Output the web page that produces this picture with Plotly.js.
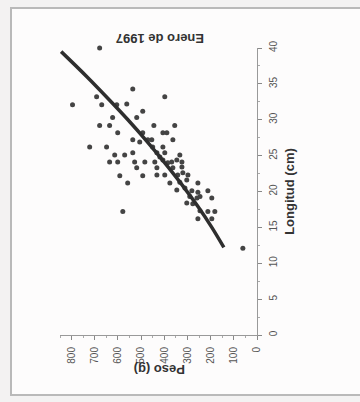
<!DOCTYPE html>
<html>
<head>
<meta charset="utf-8">
<script src="https://cdn.plot.ly/plotly-3.0.1.min.js"></script>
<style>
  html, body { margin: 0; padding: 0; background: #f3f2f2; }
  #wrap { position: relative; width: 360px; height: 402px; overflow: hidden; }
  #frame { position: absolute; left: 10px; top: 7px; width: 360px; height: 389px;
           border: 2px solid #b9b9b9; background: #fdfcfc; box-sizing: border-box; }
  #chart { position: absolute; left: 0; top: 0; width: 360px; height: 402px; }
</style>
</head>
<body>
<div id="wrap">
  <div id="frame"></div>
  <div id="chart"></div>
</div>
<script>
// Scatter data: Peso (g) vs Longitud (cm)
const peso = [679, 796, 692, 670, 536, 398, 605, 562, 493, 623, 519, 679, 636, 601, 445, 355, 406, 389, 493, 363,
              722, 649, 536, 506, 471, 450, 406, 614, 571, 536, 432, 398, 333, 636, 601, 528, 484, 441, 406, 368,
              324, 432, 519, 324, 363, 592, 493, 432, 398, 342, 298, 558, 376, 333, 255, 311, 346, 281, 255, 212,
              290, 259, 195, 303, 277, 579, 246, 212, 182, 255, 195, 61, 419, 385, 346, 320, 246, 303, 454];
const longitud = [40.0, 32.1, 33.2, 32.1, 34.3, 33.2, 32.1, 32.2, 31.2, 30.3, 30.3, 29.2, 29.2, 28.2, 29.2, 29.2, 28.2, 28.2, 28.2, 27.2,
                  26.2, 26.2, 27.2, 26.9, 27.2, 26.2, 26.2, 25.1, 25.1, 25.4, 25.4, 25.4, 25.1, 24.1, 24.1, 24.1, 24.1, 24.1, 24.4, 24.1,
                  24.1, 23.3, 23.3, 23.4, 23.3, 22.2, 22.2, 22.3, 22.3, 22.3, 22.3, 21.2, 21.2, 21.3, 21.2, 20.5, 20.2, 20.1, 19.9, 20.1,
                  19.3, 19.1, 19.1, 18.4, 18.3, 17.2, 17.3, 17.2, 17.2, 16.2, 16.2, 12.1, 24.8, 24.0, 24.4, 22.6, 19.3, 21.6, 27.2];

// Fitted curve, points
const curvaPeso = [845, 734, 644, 557, 475, 398, 325, 257, 195, 143];
const curvaLongitud = [39.5, 36, 33, 30, 27, 24, 21, 18, 15, 12.2];

const pesoTicks = [0, 100, 200, 300, 400, 500, 600, 700, 800];
const longitudTicks = [0, 5, 10, 15, 20, 25, 30, 35, 40];

const FONT = 'Liberation Sans, Arial, sans-serif';
const tickFont = { family: FONT, size: 10, color: '#555' };
const titleFont = { family: FONT, size: 13, color: '#333', weight: 'bold' };

const traces = [
  {
    x: peso, y: longitud, type: 'scatter', mode: 'markers', cliponaxis: false,
    marker: { symbol: 'circle', size: 5, color: '#444' }, hoverinfo: 'skip'
  },
  {
    x: curvaPeso, y: curvaLongitud, type: 'scatter', mode: 'lines', cliponaxis: false,
    line: { color: '#2e2e2e', width: 3.5, shape: 'spline' }, hoverinfo: 'skip'
  }
];

const layout = {
  width: 360, height: 402,
  margin: { l: 60, r: 103, t: 48, b: 67 },
  paper_bgcolor: 'rgba(0,0,0,0)',
  plot_bgcolor: 'rgba(0,0,0,0)',
  showlegend: false,
  xaxis: {
    range: [850, 0], tickvals: pesoTicks, ticktext: pesoTicks.map(String),
    tickangle: -90, tickfont: tickFont, ticks: 'outside', ticklen: 4, tickcolor: '#888',
    ticklabelstandoff: 3,
    minor: { dtick: 50, ticks: 'outside', ticklen: 2, tickcolor: '#aaa' },
    showgrid: false, zeroline: false, showline: true, linecolor: '#999', linewidth: 1
  },
  yaxis: {
    range: [0, 40], side: 'right', tickvals: longitudTicks, ticktext: longitudTicks.map(String),
    tickangle: -90, tickfont: tickFont, ticks: 'outside', ticklen: 4, tickcolor: '#888',
    ticklabelstandoff: 3,
    minor: { dtick: 2.5, ticks: 'outside', ticklen: 2, tickcolor: '#aaa' },
    showgrid: false, zeroline: false, showline: true, linecolor: '#999', linewidth: 1,
    title: { text: 'Longitud (cm)', font: titleFont, standoff: 6 }
  },
  annotations: [
    { text: 'Enero de 1997', xref: 'paper', yref: 'paper',
      x: (160 - 60) / 197, y: (335 - 39) / 287, xanchor: 'center', yanchor: 'middle',
      textangle: 180, showarrow: false, font: titleFont },
    { text: 'Peso (g)', xref: 'paper', yref: 'paper',
      x: (160 - 60) / 197, y: (335 - 370) / 287, xanchor: 'center', yanchor: 'middle',
      textangle: 180, showarrow: false, font: titleFont }
  ]
};

Plotly.newPlot('chart', traces, layout, { staticPlot: true, displayModeBar: false });
</script>
</body>
</html>
